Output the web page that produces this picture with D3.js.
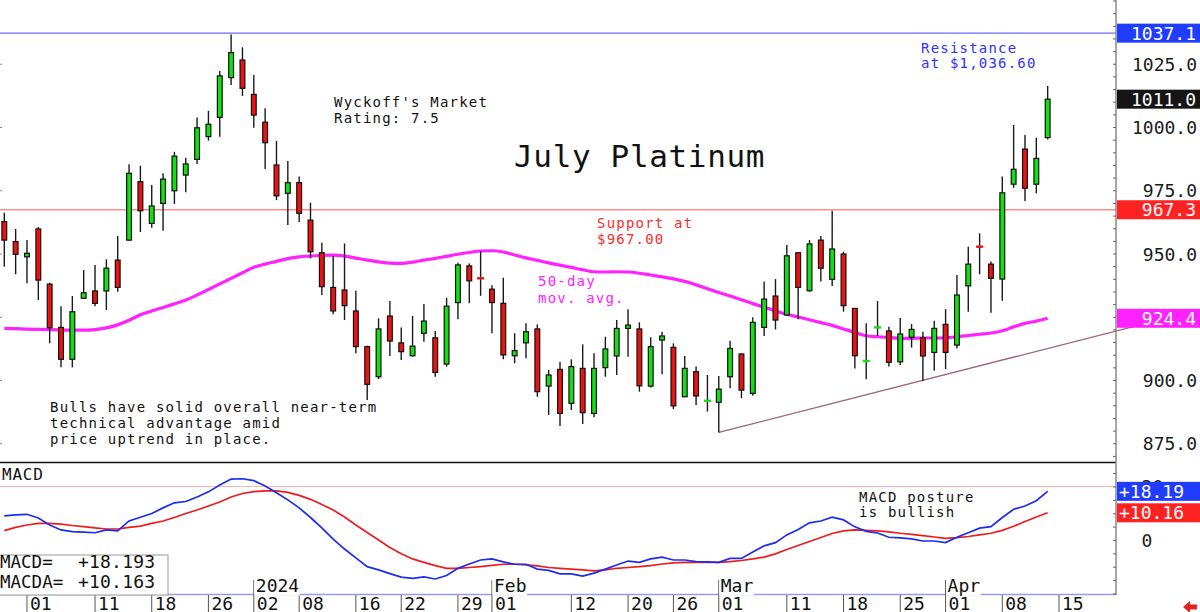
<!DOCTYPE html>
<html>
<head>
<meta charset="utf-8">
<script src="https://cdn.jsdelivr.net/npm/d3@7"></script>
<style>
  body { margin: 0; background: #fff; }
  svg { display: block; font-family: "DejaVu Sans Mono", monospace; }
</style>
</head>
<body>
<svg id="chart" width="1200" height="612"></svg>
<script>
// Trading days (MM-DD), Nov 29 2023 .. Apr 15 2024
const days = [
  "11-29","11-30",
  "12-01","12-04","12-05","12-06","12-07","12-08","12-11","12-12","12-13","12-14","12-15",
  "12-18","12-19","12-20","12-21","12-22","12-26","12-27","12-28","12-29",
  "01-02","01-03","01-04","01-05","01-08","01-09","01-10","01-11","01-12","01-16","01-17",
  "01-18","01-19","01-22","01-23","01-24","01-25","01-26","01-29","01-30","01-31",
  "02-01","02-02","02-05","02-06","02-07","02-08","02-09","02-12","02-13","02-14","02-15",
  "02-16","02-20","02-21","02-22","02-23","02-26","02-27","02-28","02-29",
  "03-01","03-04","03-05","03-06","03-07","03-08","03-11","03-12","03-13","03-14","03-15",
  "03-18","03-19","03-20","03-21","03-22","03-25","03-26","03-27","03-28",
  "04-01","04-02","04-03","04-04","04-05","04-08","04-09","04-10","04-11","04-12","04-15"
];

// daily OHLC, one value per trading day from 11-29 to 04-12
const open = [
  962.6, 954.7, 948.7, 959.7, 937.9, 920.8, 908.2, 932.3, 935.2, 935.2,
  947.4, 955.3, 978.4, 961.9, 969.8, 974.8, 981.0, 987.2, 996.2, 1003.8,
  1019.5, 1026.5, 1012.9, 1001.9, 985.0, 973.8, 978.0, 963.2, 950.3, 936.6,
  935.6, 927.3, 913.2, 901.3, 925.3, 914.7, 909.6, 918.5, 916.7, 906.3,
  930.6, 945.1, 940.4, 935.9, 930.3, 909.6, 914.7, 920.2, 897.6, 904.2,
  890.8, 904.6, 886.8, 904.9, 909.5, 920.4, 920.2, 897.6, 915.8, 912.9,
  893.4, 903.3, 891.7, 891.2, 901.3, 910.3, 894.7, 920.8, 933.2, 925.7,
  950.3, 935.3, 955.3, 939.8, 949.8, 928.3, 907.4, 920.7, 919.4, 907.2,
  916.9, 916.7, 910.9, 922.0, 913.8, 937.2, 952.8, 945.8, 939.9, 977.4,
  991.3, 977.4, 995.8
];
const high = [
  966.1, 959.7, 955.3, 960.5, 938.5, 929.2, 933.2, 943.5, 945.5, 947.7,
  956.9, 985.3, 984.7, 977.1, 981.7, 990.2, 987.9, 1003.8, 1006.4, 1022.1,
  1036.6, 1031.5, 1020.6, 1007.4, 994.5, 986.6, 980.4, 970.1, 954.3, 949.0,
  954.0, 935.3, 913.5, 924.4, 931.2, 920.8, 925.3, 930.0, 919.4, 932.5,
  946.4, 946.1, 951.0, 937.5, 940.4, 918.5, 922.4, 922.0, 904.0, 907.2,
  908.2, 914.1, 910.6, 917.1, 923.7, 928.0, 922.8, 916.9, 919.1, 914.5,
  909.5, 905.3, 902.0, 901.6, 915.5, 910.5, 924.8, 938.9, 939.9, 953.4,
  950.5, 955.3, 956.9, 966.9, 950.7, 928.5, 922.4, 931.2, 921.1, 924.5,
  922.1, 919.1, 923.4, 928.0, 941.5, 952.7, 958.0, 946.8, 980.4, 1000.8,
  996.8, 995.8, 1016.2
];
const low = [
  944.8, 941.8, 938.2, 931.6, 914.5, 905.0, 905.0, 932.0, 929.2, 927.7,
  934.9, 955.0, 958.5, 960.2, 959.0, 969.6, 974.2, 985.4, 994.6, 996.2,
  1016.6, 1012.3, 999.7, 983.4, 971.1, 961.3, 962.5, 948.1, 933.6, 926.0,
  923.7, 910.6, 892.1, 900.4, 909.5, 907.9, 909.2, 915.1, 901.3, 905.3,
  924.0, 930.3, 933.3, 918.5, 908.2, 906.6, 908.6, 893.4, 886.2, 881.8,
  888.1, 882.6, 885.3, 901.3, 902.0, 909.2, 895.4, 897.0, 902.3, 888.5,
  893.2, 890.1, 887.5, 879.3, 896.7, 892.8, 893.8, 917.4, 920.0, 925.3,
  924.0, 934.9, 938.9, 937.2, 927.0, 904.6, 900.3, 917.4, 905.3, 905.9,
  912.8, 899.6, 903.7, 904.3, 912.5, 927.0, 941.8, 926.6, 931.3, 976.0,
  970.8, 973.8, 995.1
];
const close = [
  955.3, 949.7, 950.1, 939.5, 920.7, 908.2, 927.0, 934.5, 930.3, 944.2,
  936.6, 981.7, 966.9, 968.8, 979.4, 988.5, 985.4, 999.7, 1001.1, 1020.2,
  1029.4, 1015.3, 1004.7, 993.8, 972.8, 978.0, 965.9, 950.7, 936.9, 927.3,
  929.4, 913.2, 898.3, 920.2, 915.4, 911.2, 913.4, 923.3, 903.0, 929.2,
  945.5, 939.2, 940.0, 930.6, 909.9, 911.6, 919.1, 895.4, 902.0, 886.8,
  905.3, 887.1, 904.6, 912.3, 920.4, 921.7, 897.7, 913.2, 917.4, 889.8,
  904.6, 893.7, 891.9, 896.4, 912.5, 896.0, 922.8, 932.0, 923.7, 949.1,
  936.6, 953.8, 944.2, 951.8, 929.4, 909.6, 907.6, 920.9, 907.0, 918.2,
  920.0, 909.5, 920.4, 910.9, 933.6, 945.8, 952.6, 940.2, 974.0, 983.3,
  975.8, 987.6, 1011.0
];

// 50-day moving average
const ma50 = [
  920.4, 920.3, 920.1, 920.0, 919.9, 919.8, 919.7, 919.7, 919.9, 920.6,
  921.8, 923.6, 925.8, 927.3, 928.7, 930.1, 931.6, 933.6, 935.8, 938.0,
  940.2, 942.4, 944.6, 945.8, 946.9, 948.0, 948.7, 949.0, 949.3, 949.4,
  949.0, 948.2, 947.4, 946.7, 946.2, 946.1, 946.6, 947.4, 948.1, 948.9,
  949.7, 950.4, 951.0, 951.1, 950.6, 949.4, 948.3, 947.3, 946.3, 945.4,
  944.5, 943.6, 942.8, 942.7, 942.8, 942.7, 942.2, 941.5, 940.8, 940.0,
  939.0, 937.6, 936.1, 934.6, 933.2, 931.7, 930.2, 928.8, 927.3, 926.0,
  924.9, 923.8, 922.7, 921.6, 920.2, 918.8, 917.5, 917.1, 916.8, 916.5,
  916.5, 916.6, 916.6, 916.7, 917.1, 917.6, 918.1, 918.6, 919.5, 921.0,
  922.4, 923.3, 924.4
];

// MACD (blue) and MACDA signal (red)
const macd = [
  9.0, 9.4, 9.6, 8.2, 5.6, 3.75, 3.1, 2.9, 2.7, 3.75,
  3.4, 7.1, 8.5, 9.9, 12.0, 13.9, 14.4, 16.1, 18.0, 20.6,
  22.8, 22.9, 22.2, 20.2, 17.7, 15.0, 12.0, 8.4, 4.5, 0.3,
  -3.4, -6.7, -10.0, -11.2, -12.6, -13.9, -14.4, -13.8, -14.6, -13.3,
  -10.6, -9.0, -7.5, -7.1, -8.2, -9.1, -9.1, -10.9, -11.4, -12.7,
  -12.7, -13.5, -12.4, -10.9, -9.4, -7.9, -8.4, -7.1, -6.4, -7.5,
  -7.5, -8.1, -8.2, -8.4, -6.9, -6.9, -4.5, -2.2, -1.0, 1.9,
  3.9, 6.4, 7.1, 8.5, 7.5, 4.9, 3.2, 2.6, 1.0, 0.75,
  0.4, -0.4, -0.4, -1.0, 1.0, 2.7, 4.4, 5.0, 8.4, 11.5,
  12.7, 14.7, 18.193
];
const macda = [
  3.5, 4.7, 5.6, 6.2, 6.2, 5.9, 5.4, 5.0, 4.5, 4.1,
  4.1, 4.7, 5.2, 6.2, 7.1, 8.4, 9.9, 11.2, 12.7, 14.2,
  16.1, 17.4, 18.1, 18.4, 18.4, 17.8, 16.7, 15.2, 13.3, 11.2,
  8.6, 5.6, 2.8, 0.0, -2.8, -5.2, -7.1, -8.4, -9.6, -10.6,
  -10.6, -10.3, -10.0, -9.5, -9.1, -9.1, -9.3, -9.7, -10.3, -10.6,
  -10.9, -11.2, -11.6, -11.2, -10.6, -10.3, -10.0, -9.6, -9.0, -8.6,
  -8.4, -8.4, -8.4, -8.4, -8.1, -7.7, -7.1, -6.4, -5.2, -3.6,
  -2.1, -0.6, 0.9, 2.4, 3.4, 3.75, 3.6, 3.4, 3.0, 2.5,
  2.1, 1.6, 1.1, 0.6, 0.9, 1.3, 1.9, 2.5, 3.6, 5.1,
  6.9, 8.6, 10.163
];

// levels and trendline anchors
const resistance = 1037.1;
const support = 967.3;
const trendDays = ["03-01", "03-25"];
const trendPrices = [879.3, 897.6];

// axis ticks
const tickDays = ["12-01","12-11","12-18","12-26","01-02","01-08","01-16","01-22","01-29",
  "02-01","02-12","02-20","02-26","03-01","03-11","03-18","03-25","04-01","04-08","04-15"];
const monthDays = ["01-02", "02-01", "03-01", "04-01"];
const monthLabels = ["2024", "Feb", "Mar", "Apr"];
const priceLabels = [875, 900, 925, 950, 975, 1000, 1025];
const macdLabels = [0, 20];

// ---------------------------------------------------------------
const svg = d3.select("#chart");
const plotRight = 1116;
const priceTop = 0, priceBottom = 462;
const macdTop = 463, macdBottom = 595;

const x = d3.scalePoint().domain(days).range([4.3, 1059]);
const yP = d3.scaleLinear().domain([867.6, 1050.2]).range([priceBottom, priceTop]);
const yM = d3.scaleLinear().domain([-20.6, 28.8]).range([macdBottom, macdTop]);

const green = "#11e011", red = "#ee1111";

function label(g, px, py, lines, color, size, spacing, lh) {
  lines.forEach((t, i) => {
    g.append("text")
      .attr("x", px).attr("y", py + i * lh)
      .attr("fill", color)
      .style("font-size", size + "px")
      .style("letter-spacing", spacing + "px")
      .style("white-space", "pre")
      .text(t);
  });
}

// horizontal levels
svg.append("line")
  .attr("x1", 0).attr("x2", plotRight)
  .attr("y1", yP(resistance)).attr("y2", yP(resistance))
  .attr("stroke", "#6a6aff").attr("stroke-width", 1.3);
svg.append("line")
  .attr("x1", 0).attr("x2", plotRight)
  .attr("y1", yP(support)).attr("y2", yP(support))
  .attr("stroke", "#ff8c8c").attr("stroke-width", 1.3);

// trendline extended to the right edge
const tx0 = x(trendDays[0]), tx1 = x(trendDays[1]);
const slope = (yP(trendPrices[1]) - yP(trendPrices[0])) / (tx1 - tx0);
svg.append("line")
  .attr("x1", tx0).attr("y1", yP(trendPrices[0]))
  .attr("x2", 1200).attr("y2", yP(trendPrices[0]) + slope * (1200 - tx0))
  .attr("stroke", "#a0607c").attr("stroke-width", 1.3);

// 50-day moving average
const maLine = d3.line()
  .x((d, i) => x(days[i]))
  .y(d => yP(d))
  .curve(d3.curveMonotoneX);
svg.append("path")
  .attr("d", maLine(ma50))
  .attr("fill", "none")
  .attr("stroke", "#ff22ff")
  .attr("stroke-width", 3.2);

// candles
const candles = open.map((o, i) => ({ day: days[i], o: o, h: high[i], l: low[i], c: close[i] }));
const cg = svg.append("g");
cg.selectAll("line.wick")
  .data(candles).enter().append("line")
  .attr("class", "wick")
  .attr("x1", d => x(d.day)).attr("x2", d => x(d.day))
  .attr("y1", d => yP(d.h)).attr("y2", d => yP(d.l))
  .attr("stroke", "#1a1a1a").attr("stroke-width", 1.4);
cg.selectAll("rect.body")
  .data(candles).enter().append("rect")
  .attr("class", "body")
  .each(function (d) {
    const top = yP(Math.max(d.o, d.c)), bot = yP(Math.min(d.o, d.c));
    const doji = bot - top < 1.6;
    d3.select(this)
      .attr("x", x(d.day) - (doji ? 3.5 : 2.4))
      .attr("width", doji ? 7 : 4.8)
      .attr("y", doji ? (top + bot) / 2 - 1.2 : top)
      .attr("height", doji ? 2.4 : bot - top)
      .attr("fill", d.c >= d.o ? green : red)
      .attr("stroke", doji ? "none" : "#111")
      .attr("stroke-width", 1.2);
  });

// price panel bottom border
svg.append("line")
  .attr("x1", 0).attr("x2", plotRight)
  .attr("y1", 462.5).attr("y2", 462.5)
  .attr("stroke", "#111").attr("stroke-width", 1.6);

// MACD panel
svg.append("line")
  .attr("x1", 0).attr("x2", plotRight)
  .attr("y1", yM(20)).attr("y2", yM(20))
  .attr("stroke", "#ffb4b4").attr("stroke-width", 1);

const mLine = d3.line().x((d, i) => x(days[i])).y(d => yM(d));
svg.append("path").attr("d", mLine(macda))
  .attr("fill", "none").attr("stroke", "#ee1c1c").attr("stroke-width", 1.7);
svg.append("path").attr("d", mLine(macd))
  .attr("fill", "none").attr("stroke", "#1c2cf0").attr("stroke-width", 1.7);

// bottom border of the MACD panel
svg.append("line")
  .attr("x1", 0).attr("x2", plotRight)
  .attr("y1", 594.5).attr("y2", 594.5)
  .attr("stroke", "#9a9ae6").attr("stroke-width", 1.5);

// date ticks and labels
const dg = svg.append("g");
dg.selectAll("line")
  .data(tickDays).enter().append("line")
  .attr("x1", d => x(d)).attr("x2", d => x(d))
  .attr("y1", d => monthDays.includes(d) ? 580 : 595).attr("y2", 612)
  .attr("stroke", "#555").attr("stroke-width", 1);
dg.selectAll("text")
  .data(tickDays).enter().append("text")
  .attr("x", d => x(d) + 3).attr("y", 610)
  .attr("fill", "#111")
  .style("font-size", "18px")
  .text(d => d.slice(3));

monthDays.forEach((d, i) => {
  const mx = x(d);
  const w = monthLabels[i].length * 10.9 + 2;
  svg.append("rect").attr("x", mx + 0.5).attr("y", 578).attr("width", w).attr("height", 17.5).attr("fill", "#fff");
  svg.append("text")
    .attr("x", mx + 2).attr("y", 591.5)
    .attr("fill", "#111")
    .style("font-size", "18px")
    .text(monthLabels[i]);
});

// legend box
svg.append("rect")
  .attr("x", -1).attr("y", 555).attr("width", 169).attr("height", 40)
  .attr("fill", "#fff").attr("stroke", "#999").attr("stroke-width", 1);
label(svg, 0, 567.5, ["MACD=", "MACDA="], "#111", 17.5, 0, 20);
label(svg, 78, 567.5, ["+" + d3.format(".3f")(macd[macd.length - 1]),
                       "+" + d3.format(".3f")(macda[macda.length - 1])], "#111", 18, 0.2, 20);

// right axis
svg.append("line")
  .attr("x1", plotRight).attr("x2", plotRight)
  .attr("y1", 0).attr("y2", 595)
  .attr("stroke", "#888").attr("stroke-width", 1.5);

const pTicks = svg.append("g").attr("transform", `translate(${plotRight},0)`)
  .call(d3.axisLeft(yP).tickValues(d3.range(870, 1051, 5)).tickSize(3).tickFormat(""));
pTicks.select(".domain").remove();
pTicks.selectAll("line").attr("stroke", "#666");

const leftTicks = svg.append("g")
  .call(d3.axisRight(yP).tickValues(priceLabels).tickSize(2).tickFormat(""));
leftTicks.select(".domain").remove();
leftTicks.selectAll("line").attr("stroke", "#888");

const pLab = svg.append("g").attr("transform", `translate(${plotRight},0)`)
  .call(d3.axisRight(yP).tickValues(priceLabels).tickSize(0).tickFormat(d3.format(".1f")));
pLab.select(".domain").remove();
pLab.selectAll("text")
  .attr("x", 81).attr("dy", "0.36em")
  .attr("text-anchor", "end")
  .attr("fill", "#1a1a1a")
  .style("font-size", "18px")
  .style("font-family", "DejaVu Sans Mono, monospace");

const mTicks = svg.append("g").attr("transform", `translate(${plotRight},0)`)
  .call(d3.axisLeft(yM).tickValues(d3.range(-20, 26, 5)).tickSize(3).tickFormat(""));
mTicks.select(".domain").remove();
mTicks.selectAll("line").attr("stroke", "#666");

const mLab = svg.append("g").attr("transform", `translate(${plotRight},0)`)
  .call(d3.axisRight(yM).tickValues(macdLabels).tickSize(0).tickFormat(d => d > 0 ? "+" + d : d));
mLab.select(".domain").remove();
mLab.selectAll("text")
  .attr("x", 31).attr("dy", "0.36em")
  .attr("text-anchor", "middle")
  .attr("fill", "#1a1a1a")
  .style("font-size", "18px")
  .style("font-family", "DejaVu Sans Mono, monospace");

// value tags on the right axis
function tag(yv, txt, fill, anchor) {
  svg.append("rect")
    .attr("x", plotRight + 1).attr("y", yv - 9.5)
    .attr("width", 1200 - plotRight).attr("height", 19)
    .attr("fill", fill);
  svg.append("text")
    .attr("x", anchor === "end" ? 1196 : 1119).attr("y", yv)
    .attr("dy", "0.36em")
    .attr("text-anchor", anchor)
    .attr("fill", "#fff")
    .style("font-size", "18px")
    .text(txt);
}
const f1 = d3.format(".1f"), f2 = d3.format("+.2f");
tag(yP(resistance), f1(resistance), "#1f3cff", "end");
tag(yP(close[close.length - 1]), f1(close[close.length - 1]), "#151515", "end");
tag(yP(support), f1(support), "#ff2222", "end");
tag(yP(ma50[ma50.length - 1]), f1(ma50[ma50.length - 1]), "#ff22ff", "end");
tag(yM(macd[macd.length - 1]), f2(macd[macd.length - 1]), "#1f3cff", "start");
tag(yM(macda[macda.length - 1]), f2(macda[macda.length - 1]), "#ff2222", "start");

// small red arrow bottom right
svg.append("path")
  .attr("d", "M1183,607 L1190,601 L1190,604.5 L1197,604.5 L1197,609.5 L1190,609.5 L1190,613 Z")
  .attr("fill", "#e82020");

// annotations
label(svg, 334, 106.7, ["Wyckoff's Market", "Rating: 7.5"], "#111", 14, 1.2, 16.6);
svg.append("text")
  .attr("x", 514).attr("y", 166.5)
  .attr("fill", "#111")
  .style("font-size", "31px")
  .style("letter-spacing", "0.65px")
  .text("July Platinum");
label(svg, 921, 52.7, ["Resistance", "at $1,036.60"], "#3030ff", 14, 1.2, 15.6);
label(svg, 597, 228.3, ["Support at", "$967.00"], "#ff2a2a", 14, 1.2, 15.2);
label(svg, 538, 286, ["50-day", "mov. avg."], "#ff22ff", 14, 1.2, 16.7);
label(svg, 50, 411.7, ["Bulls have solid overall near-term", "technical advantage amid",
  "price uptrend in place."], "#111", 14, 1.2, 16.3);
label(svg, 859, 501.7, ["MACD posture", "is bullish"], "#111", 14, 1.2, 15.6);
label(svg, 2, 480, ["MACD"], "#111", 16, 0.8, 0);
</script>
</body>
</html>
